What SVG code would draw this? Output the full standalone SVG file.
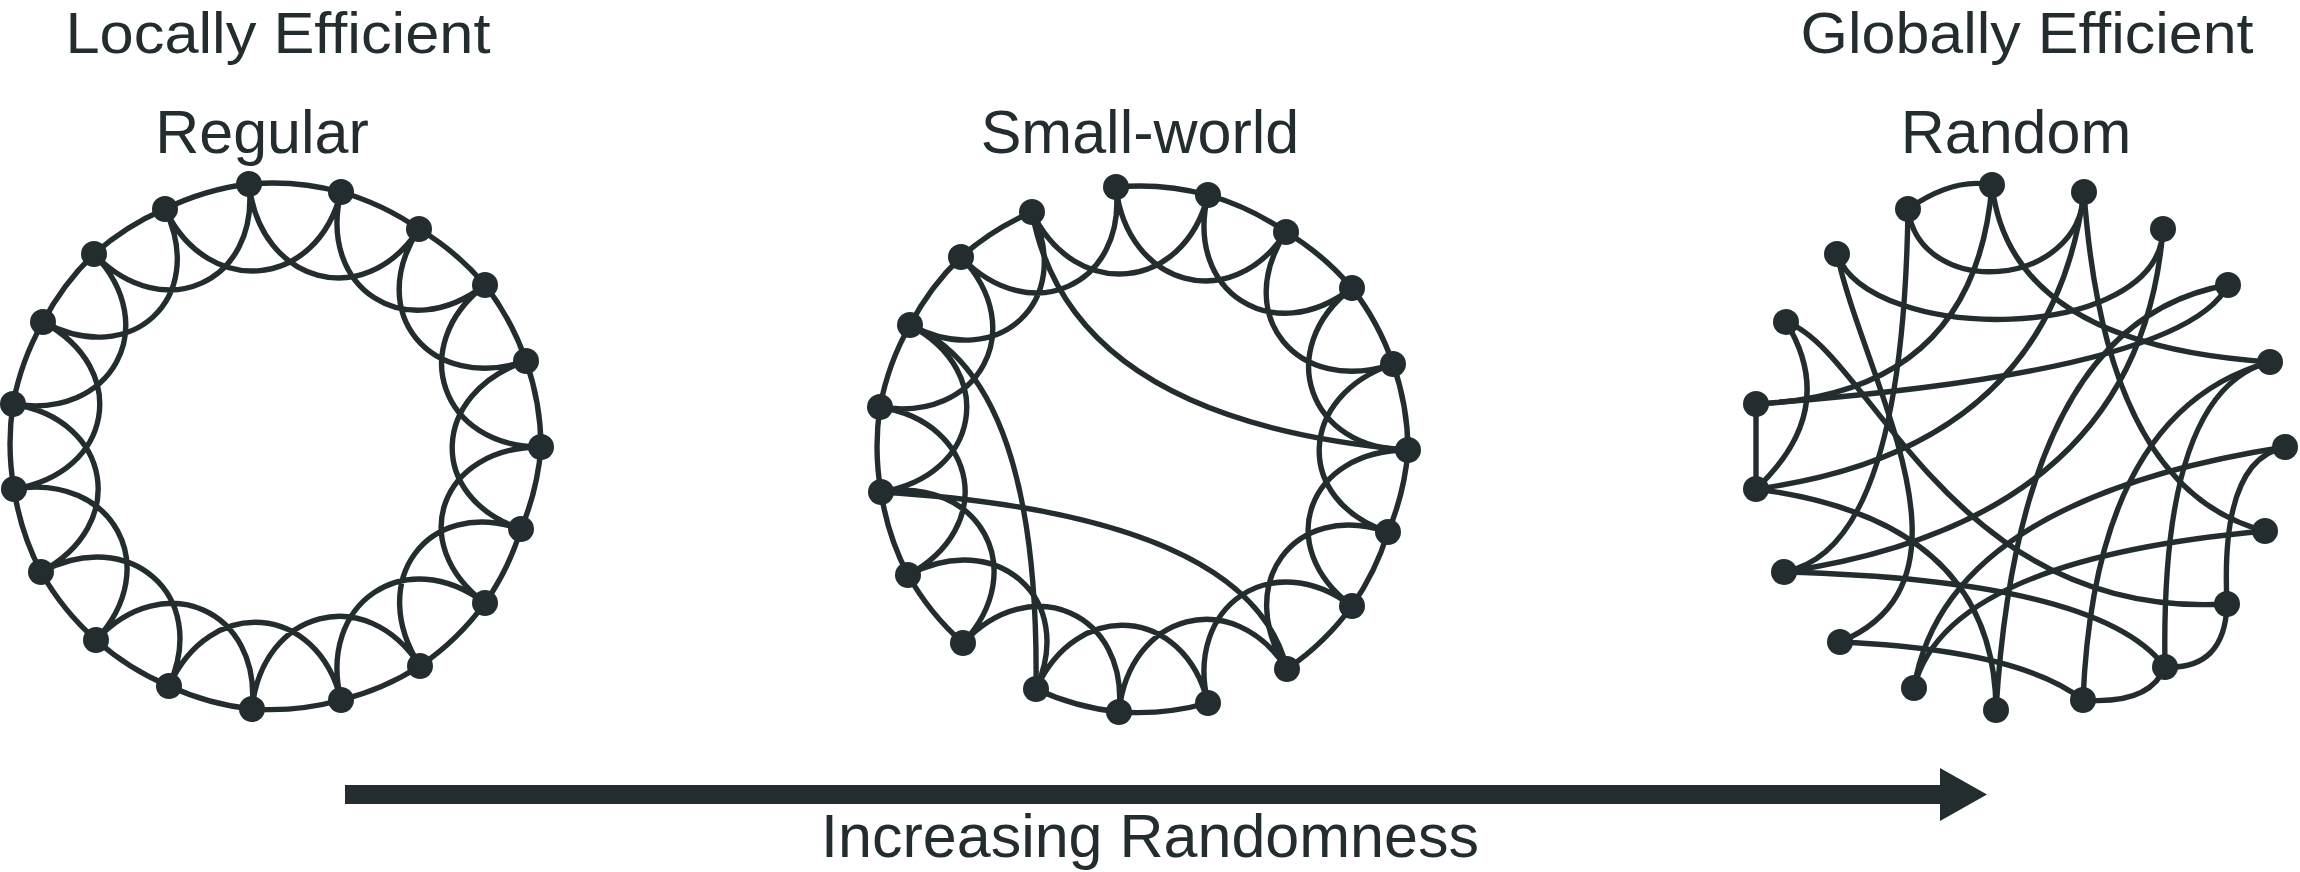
<svg xmlns="http://www.w3.org/2000/svg" width="2300" height="872" viewBox="0 0 2300 872">
<style>
.e{fill:none;stroke:#232d2f;stroke-width:5.4;stroke-linecap:round}
.n{fill:#232d2f}
.t{font-family:"Liberation Sans",Arial,sans-serif;font-size:61px;fill:#232d2f;text-anchor:middle}
.h{font-size:58px}
</style>
<defs>
<path id="ringFull" d="M249,184 A264,264 0 0 1 341,192 A264,264 0 0 1 419,229 A264,264 0 0 1 485,285 A264,264 0 0 1 526,361 A264,264 0 0 1 541,447 A264,264 0 0 1 521,529 A264,264 0 0 1 485,603 A264,264 0 0 1 420,666 A264,264 0 0 1 341,700 A264,264 0 0 1 252,709 A264,264 0 0 1 169,686 A264,264 0 0 1 96,640 A264,264 0 0 1 41,572 A264,264 0 0 1 14,489 A264,264 0 0 1 13,404 A264,264 0 0 1 43,322 A264,264 0 0 1 94,254 A264,264 0 0 1 165,209 A264,264 0 0 1 249,184"/>
<path id="arcs" d="M249,184 C260,283 364,313 419,229 M341,192 C317,289 406,346 485,285 M419,229 C364,313 431,393 526,361 M485,285 C406,346 441,447 541,447 M526,361 C431,393 426,497 521,529 M541,447 C441,447 405,543 485,603 M521,529 C426,497 366,582 420,666 M485,603 C405,543 317,603 341,700 M420,666 C366,582 262,610 252,709 M341,700 C317,603 210,595 169,686 M252,709 C262,610 164,567 96,640 M169,686 C210,595 129,525 41,572 M96,640 C164,567 113,473 14,489 M41,572 C129,525 112,420 13,404 M14,489 C113,473 131,369 43,322 M13,404 C112,420 163,326 94,254 M43,322 C131,369 208,299 165,209 M94,254 C163,326 260,283 249,184 M165,209 C208,299 317,289 341,192"/>
</defs>

<g id="labels">
<text class="t h" x="278" y="53" textLength="425" lengthAdjust="spacingAndGlyphs">Locally Efficient</text>
<text class="t h" x="2027" y="53" textLength="453" lengthAdjust="spacingAndGlyphs">Globally Efficient</text>
<text class="t" x="262" y="153">Regular</text>
<text class="t" x="1140" y="153">Small-world</text>
<text class="t" x="2016" y="153">Random</text>
<text class="t" x="1150" y="857">Increasing Randomness</text>
</g>

<g id="connectors">
<g id="regular-edges">
<use href="#ringFull" class="e"/>
<use href="#arcs" class="e"/>
</g>
<g id="smallworld-edges" transform="translate(867,3)">
<path class="e" d="M249,184 A264,264 0 0 1 341,192 A264,264 0 0 1 419,229 A264,264 0 0 1 485,285 A264,264 0 0 1 526,361 A264,264 0 0 1 541,447 A264,264 0 0 1 521,529 A264,264 0 0 1 485,603 A264,264 0 0 1 420,666 M341,700 A264,264 0 0 1 252,709 A264,264 0 0 1 169,686 M96,640 A264,264 0 0 1 41,572 A264,264 0 0 1 14,489 A264,264 0 0 1 13,404 A264,264 0 0 1 43,322 A264,264 0 0 1 94,254 A264,264 0 0 1 165,209"/>
<use href="#arcs" class="e"/>
<path class="e" d="M165,209 Q203,417 541,447"/>
<path class="e" d="M43,322 Q173,377 169,686"/>
<path class="e" d="M14,489 Q383,512 420,666"/>
</g>
<g id="random-edges">
<path class="e" d="M1908,209 Q1954,177 1992,185"/>
<path class="e" d="M1908,209 C1920,300 2080,290 2084,192"/>
<path class="e" d="M1837,254 C1870,345 2160,345 2163,229"/>
<path class="e" d="M1992,185 Q1975,395 1756,404"/>
<path class="e" d="M1992,185 Q2010,345 2270,362"/>
<path class="e" d="M2084,192 Q2050,450 1756,489"/>
<path class="e" d="M2084,192 Q2105,490 2265,531"/>
<path class="e" d="M2163,229 Q2140,520 1784,572"/>
<path class="e" d="M1908,209 Q1903,550 1784,572"/>
<path class="e" d="M1837,254 C1864,380 1990,580 1840,642"/>
<path class="e" d="M1786,322 Q1840,410 1756,489"/>
<path class="e" d="M1786,322 C1870,350 1950,620 2227,604"/>
<path class="e" d="M1756,404 L1756,489"/>
<path class="e" d="M1756,404 Q2185,372 2228,285"/>
<path class="e" d="M1756,489 Q1995,520 1996,710"/>
<path class="e" d="M1784,572 Q2100,580 2165,667"/>
<path class="e" d="M1840,642 Q2020,650 2083,700"/>
<path class="e" d="M1914,688 Q1945,560 2265,531"/>
<path class="e" d="M1914,688 Q1945,500 2285,447"/>
<path class="e" d="M2083,700 Q2150,705 2165,667"/>
<path class="e" d="M2083,700 Q2095,410 2270,362"/>
<path class="e" d="M2165,667 Q2160,390 2270,362"/>
<path class="e" d="M2165,667 Q2225,670 2227,604"/>
<path class="e" d="M2227,604 Q2220,460 2285,447"/>
<path class="e" d="M2228,285 Q2020,320 1996,710"/>
</g>
<g id="arrow">
<rect x="345" y="785" width="1597" height="19" fill="#232d2f"/>
<polygon points="1940,768 1987,794.5 1940,821" fill="#232d2f"/>
</g>
</g>

<g id="regular-nodes">
<g id="reg0"><circle class="n" cx="249" cy="184" r="13"/></g>
<g id="reg1"><circle class="n" cx="341" cy="192" r="13"/></g>
<g id="reg2"><circle class="n" cx="419" cy="229" r="13"/></g>
<g id="reg3"><circle class="n" cx="485" cy="285" r="13"/></g>
<g id="reg4"><circle class="n" cx="526" cy="361" r="13"/></g>
<g id="reg5"><circle class="n" cx="541" cy="447" r="13"/></g>
<g id="reg6"><circle class="n" cx="521" cy="529" r="13"/></g>
<g id="reg7"><circle class="n" cx="485" cy="603" r="13"/></g>
<g id="reg8"><circle class="n" cx="420" cy="666" r="13"/></g>
<g id="reg9"><circle class="n" cx="341" cy="700" r="13"/></g>
<g id="reg10"><circle class="n" cx="252" cy="709" r="13"/></g>
<g id="reg11"><circle class="n" cx="169" cy="686" r="13"/></g>
<g id="reg12"><circle class="n" cx="96" cy="640" r="13"/></g>
<g id="reg13"><circle class="n" cx="41" cy="572" r="13"/></g>
<g id="reg14"><circle class="n" cx="14" cy="489" r="13"/></g>
<g id="reg15"><circle class="n" cx="13" cy="404" r="13"/></g>
<g id="reg16"><circle class="n" cx="43" cy="322" r="13"/></g>
<g id="reg17"><circle class="n" cx="94" cy="254" r="13"/></g>
<g id="reg18"><circle class="n" cx="165" cy="209" r="13"/></g>
</g>

<g id="smallworld-nodes" transform="translate(867,3)">
<g id="sw0"><circle class="n" cx="249" cy="184" r="13"/></g>
<g id="sw1"><circle class="n" cx="341" cy="192" r="13"/></g>
<g id="sw2"><circle class="n" cx="419" cy="229" r="13"/></g>
<g id="sw3"><circle class="n" cx="485" cy="285" r="13"/></g>
<g id="sw4"><circle class="n" cx="526" cy="361" r="13"/></g>
<g id="sw5"><circle class="n" cx="541" cy="447" r="13"/></g>
<g id="sw6"><circle class="n" cx="521" cy="529" r="13"/></g>
<g id="sw7"><circle class="n" cx="485" cy="603" r="13"/></g>
<g id="sw8"><circle class="n" cx="420" cy="666" r="13"/></g>
<g id="sw9"><circle class="n" cx="341" cy="700" r="13"/></g>
<g id="sw10"><circle class="n" cx="252" cy="709" r="13"/></g>
<g id="sw11"><circle class="n" cx="169" cy="686" r="13"/></g>
<g id="sw12"><circle class="n" cx="96" cy="640" r="13"/></g>
<g id="sw13"><circle class="n" cx="41" cy="572" r="13"/></g>
<g id="sw14"><circle class="n" cx="14" cy="489" r="13"/></g>
<g id="sw15"><circle class="n" cx="13" cy="404" r="13"/></g>
<g id="sw16"><circle class="n" cx="43" cy="322" r="13"/></g>
<g id="sw17"><circle class="n" cx="94" cy="254" r="13"/></g>
<g id="sw18"><circle class="n" cx="165" cy="209" r="13"/></g>
</g>

<g id="random-nodes">
<g id="rnd0"><circle class="n" cx="1992" cy="185" r="13"/></g>
<g id="rnd1"><circle class="n" cx="1908" cy="209" r="13"/></g>
<g id="rnd2"><circle class="n" cx="1837" cy="254" r="13"/></g>
<g id="rnd3"><circle class="n" cx="1786" cy="322" r="13"/></g>
<g id="rnd4"><circle class="n" cx="1756" cy="404" r="13"/></g>
<g id="rnd5"><circle class="n" cx="1756" cy="489" r="13"/></g>
<g id="rnd6"><circle class="n" cx="1784" cy="572" r="13"/></g>
<g id="rnd7"><circle class="n" cx="1840" cy="642" r="13"/></g>
<g id="rnd8"><circle class="n" cx="1914" cy="688" r="13"/></g>
<g id="rnd9"><circle class="n" cx="1996" cy="710" r="13"/></g>
<g id="rnd10"><circle class="n" cx="2083" cy="700" r="13"/></g>
<g id="rnd11"><circle class="n" cx="2165" cy="667" r="13"/></g>
<g id="rnd12"><circle class="n" cx="2227" cy="604" r="13"/></g>
<g id="rnd13"><circle class="n" cx="2265" cy="531" r="13"/></g>
<g id="rnd14"><circle class="n" cx="2285" cy="447" r="13"/></g>
<g id="rnd15"><circle class="n" cx="2270" cy="362" r="13"/></g>
<g id="rnd16"><circle class="n" cx="2228" cy="285" r="13"/></g>
<g id="rnd17"><circle class="n" cx="2163" cy="229" r="13"/></g>
<g id="rnd18"><circle class="n" cx="2084" cy="192" r="13"/></g>
</g>
</svg>
